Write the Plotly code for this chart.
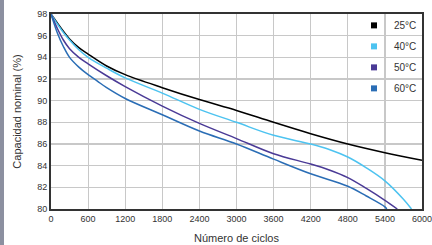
import plotly.graph_objects as go

# Data
cycles_25 = [0, 100, 200, 300, 450, 600, 900, 1200, 1800, 2400, 3000, 3600, 4200, 4800, 5400, 6000]
cap_25 = [98, 97.2, 96.4, 95.7, 94.9, 94.3, 93.2, 92.4, 91.2, 90.1, 89.1, 88.0, 86.95, 86.0, 85.2, 84.5]

cycles_40 = [0, 100, 200, 300, 450, 600, 900, 1200, 1800, 2400, 3000, 3600, 4200, 4500, 4800, 5100, 5400, 5700, 5830]
cap_40 = [98, 97.1, 96.3, 95.6, 94.7, 94.0, 93.0, 92.1, 90.7, 89.2, 88.0, 86.8, 86.0, 85.5, 84.8, 83.8, 82.6, 80.9, 80]

cycles_50 = [0, 100, 200, 300, 450, 600, 900, 1200, 1800, 2400, 3000, 3600, 4200, 4500, 4800, 5100, 5400, 5600]
cap_50 = [98, 96.7, 95.6, 94.8, 94.0, 93.4, 92.3, 91.3, 89.5, 87.9, 86.5, 85.1, 84.15, 83.6, 82.9, 81.9, 80.8, 80]

cycles_60 = [0, 100, 200, 300, 450, 600, 750, 900, 1200, 1800, 2400, 3000, 3600, 4200, 4800, 5100, 5400, 5430]
cap_60 = [98, 96.3, 95.0, 94.0, 93.1, 92.4, 91.8, 91.2, 90.2, 88.7, 87.2, 86.0, 84.6, 83.25, 82.1, 81.2, 80.2, 80]

labels = ["25°C", "40°C", "50°C", "60°C"]
colors = ["#000000", "#4dc3f0", "#4a3a96", "#2a6db5"]
x_ticks = [0, 600, 1200, 1800, 2400, 3000, 3600, 4200, 4800, 5400, 6000]
y_ticks = [80, 82, 84, 86, 88, 90, 92, 94, 96, 98]

series = [(cycles_25, cap_25), (cycles_40, cap_40), (cycles_50, cap_50), (cycles_60, cap_60)]

fig = go.Figure()
for (xs, ys), c in zip(series, colors):
    fig.add_trace(go.Scatter(x=xs, y=ys, mode="lines", line=dict(color=c, width=1.5, shape="spline", smoothing=1.0),
                             showlegend=False, hoverinfo="skip", cliponaxis=True))
for lab, c in zip(labels, colors):
    fig.add_trace(go.Scatter(x=[None], y=[None], mode="markers", name=lab,
                             marker=dict(symbol="square", color=c, size=6),
                             legendgroup=lab))

font = "Liberation Sans, Arial, sans-serif"
fig.update_layout(
    width=442, height=245,
    margin=dict(l=51, r=20, t=14, b=36, autoexpand=False),
    paper_bgcolor="white", plot_bgcolor="white",
    font=dict(family=font, size=9, color="#333333"),
    legend=dict(x=1.0, y=1.016, xanchor="right", yanchor="top", bgcolor="rgba(0,0,0,0)",
                font=dict(size=10, color="#333333"), tracegroupgap=2, itemwidth=30),
    shapes=[dict(type="rect", xref="paper", yref="paper", x0=-51/371, x1=-47/371, y0=-36/195, y1=1+14/195,
                 fillcolor="#8c90a0", line=dict(width=0), layer="below")],
)
fig.update_xaxes(range=[0, 6000], tickvals=x_ticks, ticktext=[str(v) for v in x_ticks],
                 showgrid=True, gridcolor="#c8c8c8", gridwidth=1.2, automargin=False,
                 showline=True, linecolor="#333333", linewidth=2, mirror=True,
                 ticks="", zeroline=False, tickfont=dict(size=9, color="#333333"),
                 title=dict(text="Número de ciclos", font=dict(size=11, color="#333333"), standoff=12))
fig.update_yaxes(range=[80, 98], tickvals=y_ticks, ticktext=[str(v) for v in y_ticks],
                 showgrid=True, gridcolor="#c8c8c8", gridwidth=1.2, automargin=False,
                 showline=True, linecolor="#333333", linewidth=2, mirror=True,
                 ticks="", zeroline=False, tickfont=dict(size=9, color="#333333"),
                 title=dict(text="Capacidad nominal (%)", font=dict(size=11, color="#333333"), standoff=13))

fig.write_html("out.html", config={"displayModeBar": False, "staticPlot": True},
               post_script="document.body.style.margin='0';document.body.style.overflow='hidden';")
